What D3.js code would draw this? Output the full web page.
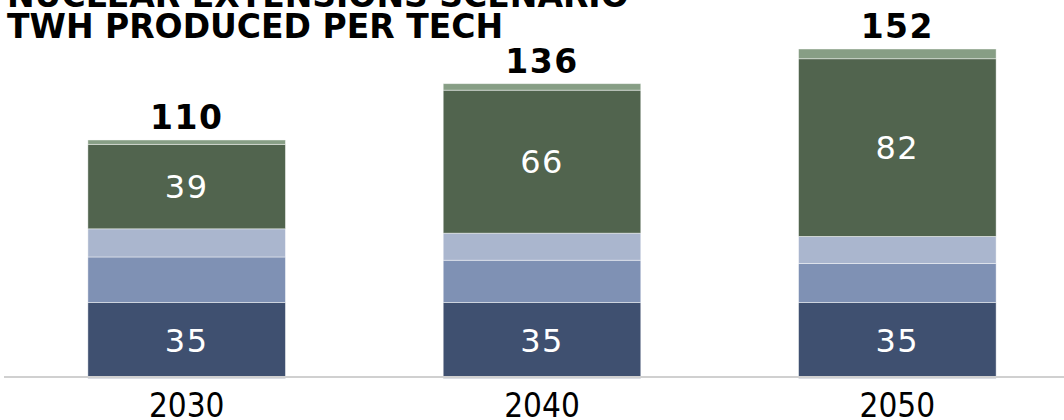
<!DOCTYPE html>
<html>
<head>
<meta charset="utf-8">
<script src="https://cdn.jsdelivr.net/npm/d3@7/dist/d3.min.js"></script>
<style>
  html, body { margin: 0; padding: 0; background: #fff; }
  svg { display: block; }
</style>
</head>
<body>
<svg id="chart" width="1064" height="420"></svg>
<script>
// Nuclear extensions scenario — TWh produced per technology
const years = ["2030", "2040", "2050"];
const techKeys = ["nuclear", "techB", "techC", "wind", "other"];
const nuclear = [35, 35, 35];
const techB   = [21, 19.5, 18];
const techC   = [13, 12.5, 12.5];
const wind    = [39, 66, 82];
const other   = [2, 3, 4.5];
const totals  = [110, 136, 152];
const labelledKeys = ["nuclear", "wind"];
const segmentLabels = { nuclear: nuclear, wind: wind };
const colors = ["#3F5070", "#7F91B4", "#AAB6CE", "#51644E", "#879E85"];
const titleLines = ["NUCLEAR EXTENSIONS SCENARIO", "TWH PRODUCED PER TECH"];

const rows = years.map((yr, i) => ({
  year: yr, nuclear: nuclear[i], techB: techB[i], techC: techC[i],
  wind: wind[i], other: other[i], total: totals[i], idx: i
}));

const svg = d3.select("#chart");

const x = d3.scaleBand()
  .domain(years)
  .range([9, 1075])
  .paddingInner(0.444)
  .paddingOuter(0.222);

const y = d3.scaleLinear()
  .domain([0, 152])
  .range([378.3, 49]);

const color = d3.scaleOrdinal().domain(techKeys).range(colors);

const stacked = d3.stack().keys(techKeys)(rows);

// stacked bars
const layers = svg.append("g").selectAll("g")
  .data(stacked)
  .join("g")
  .attr("fill", d => color(d.key));

layers.selectAll("rect")
  .data(d => d)
  .join("rect")
  .attr("x", d => x(d.data.year))
  .attr("width", x.bandwidth())
  .attr("y", d => y(d[1]))
  .attr("height", d => y(d[0]) - y(d[1]))
  .attr("stroke", "rgba(255,255,255,0.55)")
  .attr("stroke-width", 0.8);

// values inside the nuclear and wind segments
stacked.filter(s => labelledKeys.includes(s.key)).forEach(s => {
  svg.append("g").selectAll("text")
    .data(s)
    .join("text")
    .attr("x", d => x(d.data.year) + x.bandwidth() / 2)
    .attr("y", d => (y(d[0]) + y(d[1])) / 2)
    .attr("dy", "0.36em")
    .attr("text-anchor", "middle")
    .attr("fill", "#fff")
    .style("font-family", "'DejaVu Sans', Verdana, sans-serif")
    .style("font-size", "32px")
    .style("letter-spacing", "1.5px")
    .text((d, i) => segmentLabels[s.key][i]);
});

// totals above the bars
svg.append("g").selectAll("text")
  .data(rows)
  .join("text")
  .attr("x", d => x(d.year) + x.bandwidth() / 2)
  .attr("y", d => y(d.total) - 11)
  .attr("text-anchor", "middle")
  .attr("fill", "#000")
  .style("font-family", "'DejaVu Sans', Verdana, sans-serif")
  .style("font-weight", "bold")
  .style("font-size", "33px")
  .style("letter-spacing", "1.5px")
  .text(d => d.total);

// category axis
const axis = svg.append("g")
  .attr("transform", "translate(0,377)")
  .call(d3.axisBottom(x).tickSize(0));
axis.select(".domain")
  .attr("d", "M4,0H1064")
  .attr("stroke", "#D0D0D0")
  .attr("stroke-width", 2);
axis.selectAll(".tick text")
  .attr("y", 40)
  .attr("dy", 0)
  .attr("fill", "#000")
  .style("font-family", "'DejaVu Sans Condensed', 'DejaVu Sans', sans-serif")
  .style("font-size", "33px");

// title
svg.append("g").selectAll("text")
  .data(titleLines)
  .join("text")
  .attr("x", 7)
  .attr("y", (d, i) => 7 + i * 30.5)
  .attr("fill", "#000")
  .style("font-family", "'DejaVu Sans', Verdana, sans-serif")
  .style("font-weight", "bold")
  .style("font-size", "33px")
  .text(d => d);
</script>
</body>
</html>
